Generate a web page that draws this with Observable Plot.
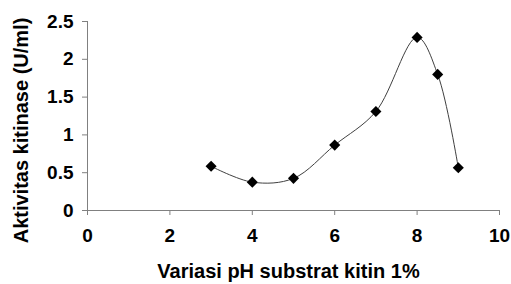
<!DOCTYPE html>
<html>
<head>
<meta charset="utf-8">
<script src="https://cdn.jsdelivr.net/npm/d3@7"></script>
<script src="https://cdn.jsdelivr.net/npm/@observablehq/plot@0.6"></script>
<style>
  html, body { margin: 0; padding: 0; background: #fff; }
  #chart svg { display: block; }
</style>
</head>
<body>
<div id="chart"></div>
<script>
const phValues = [3, 4, 5, 6, 7, 8, 8.5, 9];
const activity = [0.585, 0.375, 0.425, 0.865, 1.31, 2.29, 1.80, 0.565];
const xTicks = [0, 2, 4, 6, 8, 10];
const yTicks = [0, 0.5, 1, 1.5, 2, 2.5];
const xLabel = "Variasi pH substrat kitin 1%";
const yLabel = "Aktivitas kitinase (U/ml)";

const data = phValues.map((x, i) => ({x, y: activity[i]}));

const font = "'Liberation Sans', Arial, sans-serif";
const chart = Plot.plot({
  width: 511,
  height: 284,
  marginLeft: 87,
  marginRight: 12,
  marginTop: 21,
  marginBottom: 74,
  style: {fontFamily: font, fontSize: "19px", fontWeight: "bold", color: "#000", background: "#fff", overflow: "visible"},
  x: {domain: [0, 10], ticks: xTicks, label: null},
  y: {domain: [0, 2.5], ticks: yTicks, label: null},
  marks: [
    Plot.axisX({ticks: xTicks, tickSize: 5, tickPadding: 13, stroke: "#808080", fill: "#000", tickFormat: d => String(d), fontWeight: "bold", fontSize: 19}),
    Plot.axisY({ticks: yTicks, tickSize: 5, tickPadding: 9, stroke: "#808080", fill: "#000", tickFormat: d => String(d), fontWeight: "bold", fontSize: 19}),
    Plot.ruleY([0], {stroke: "#808080"}),
    Plot.ruleX([0], {stroke: "#808080"}),
    Plot.line(data, {x: "x", y: "y", curve: "catmull-rom", stroke: "#404040", strokeWidth: 1}),
    Plot.dot(data, {x: "x", y: "y", symbol: "diamond2", r: 5, fill: "#000", stroke: "none"}),
    Plot.text([xLabel], {frameAnchor: "bottom", textAnchor: "middle", dx: -5, dy: 67, text: d => d, fontSize: 20, fontWeight: "bold", fill: "#000"}),
    Plot.text([yLabel], {frameAnchor: "left", textAnchor: "middle", dx: -66, dy: 14.5, rotate: -90, text: d => d, fontSize: 20, fontWeight: "bold", fill: "#000"})
  ]
});
document.getElementById("chart").appendChild(chart);
</script>
</body>
</html>
